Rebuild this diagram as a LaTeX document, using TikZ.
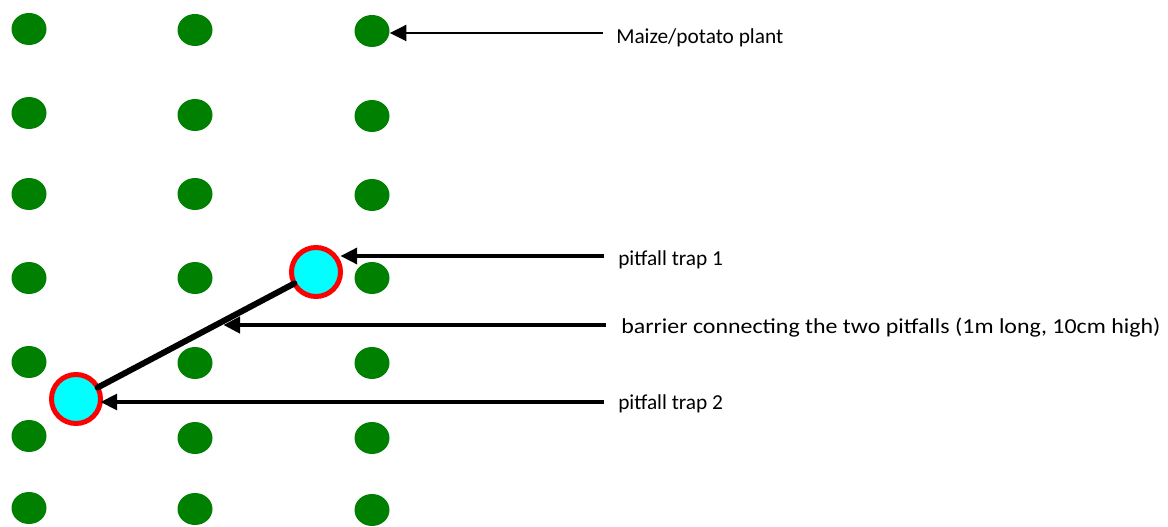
\documentclass[tikz,border=0pt]{standalone}
\usepackage{fontspec}
\setmainfont{Carlito}
\usetikzlibrary{arrows.meta,shapes.geometric,calc}
\definecolor{plantgreen}{RGB}{0,128,0}
\definecolor{trapfill}{RGB}{0,255,255}
\definecolor{traprim}{RGB}{255,0,0}
\begin{document}
\begin{tikzpicture}[x=0.75pt,y=-0.75pt,
  plant/.style={ellipse,fill=plantgreen,draw=none,inner sep=0pt,
    minimum width=26.25pt,minimum height=24pt},
  trap/.style={circle,fill=trapfill,draw=traprim,line width=3.75pt,
    inner sep=0pt,outer sep=0pt,minimum size=36.75pt},
  barrier/.style={line width=4.5pt,line cap=round},
  pointer/.style={-{Triangle[length=12.5pt,width=12pt]}},
  lbl/.style={anchor=base west,inner sep=0pt,font=\fontsize{16pt}{19pt}\selectfont}
]
\useasboundingbox (0,0) rectangle (1168,527);

% plant grid: three columns, seven rows
\foreach \r/\ya/\yb/\yc in {1/29/30/31, 2/113/115/116, 3/194/194/195,
    4/278/278/278, 5/362/363/363, 6/436/438/438, 7/508/509/510}{
  \node[plant] (p\r a) at (29,\ya) {};
  \node[plant] (p\r b) at (195,\yb) {};
  \node[plant] (p\r c) at (372,\yc) {};
}

% pitfall traps and the barrier between them
\node[trap] (t1) at (316,272) {};
\node[trap] (t2) at (76,399) {};
\draw[barrier] (t2) -- (t1);
\coordinate (bm) at ($(t2)!0.575!(t1)$);

% labels
\node[lbl] (l1) at (616,44) {Maize/potato plant};
\node[lbl] (l2) at (618,266) {pitfall trap 1};
\node[lbl] (l3) at (621,334) {\scalebox{1.12}[1]{barrier connecting the two pitfalls (1m long, 10cm high)}};
\node[lbl] (l4) at (618,410) {pitfall trap 2};

\coordinate (a1) at (603,33);
\coordinate (a2) at (604,256);
\coordinate (a3) at (606,325);
\coordinate (a4) at (604,402);

% pointers
\draw[pointer,line width=1.9pt] (a1) -- (a1 -| p1c.east);
\draw[pointer,line width=2.6pt] (a2) -- (a2 -| t1.east);
\draw[pointer,line width=3.3pt,shorten >=7pt] (a3) -- (a3 -| bm);
\draw[pointer,line width=2.3pt] (a4) -- (a4 -| t2.east);
\end{tikzpicture}
\end{document}
